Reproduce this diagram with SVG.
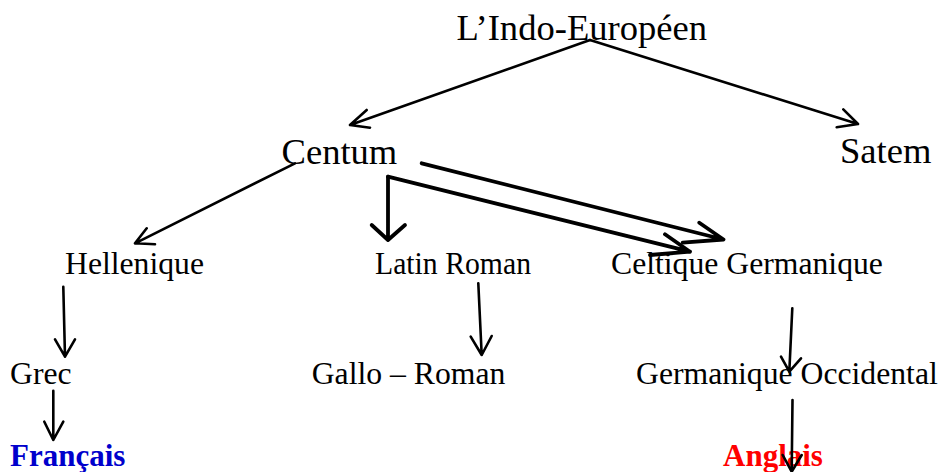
<svg xmlns="http://www.w3.org/2000/svg" width="940" height="472" viewBox="0 0 940 472">
  <style>
    text { font-family: "Liberation Serif", "Times New Roman", serif; fill: #000; }
    .big { font-size: 36.6px; }
    .mid { font-size: 31.7px; }
    .lang { font-size: 31px; font-weight: bold; }
    .fr { fill: #0000cc; }
    .en { fill: #ff0000; }
    .edge { fill: none; stroke: #000; stroke-width: 2.6; stroke-linecap: round; stroke-linejoin: round; }
    .thick { stroke-width: 3.8; }
  </style>
  <rect width="940" height="472" fill="#ffffff"/>

  <g id="indo-europeen"><text class="big" x="456.5" y="40">L’Indo-Européen</text></g>
  <g id="centum"><text class="big" x="281.5" y="164">Centum</text></g>
  <g id="satem"><text class="big" x="840" y="163">Satem</text></g>

  <g id="hellenique"><text class="mid" x="65" y="274">Hellenique</text></g>
  <g id="latin-roman"><text class="mid" x="375" y="273.5" textLength="156" lengthAdjust="spacingAndGlyphs">Latin Roman</text></g>
  <g id="celtique-germanique"><text class="mid" x="611" y="273.5">Celtique Germanique</text></g>

  <g id="grec"><text class="mid" x="10" y="383.5">Grec</text></g>
  <g id="gallo-roman"><text class="mid" x="311.7" y="383.5">Gallo – Roman</text></g>
  <g id="germanique-occidental"><text class="mid" x="636" y="383.5">Germanique Occidental</text></g>

  <g id="francais"><text class="lang fr" x="10" y="466">Français</text></g>
  <g id="anglais"><text class="lang en" x="723" y="466">Anglais</text></g>

  <g id="connectors">
    <!-- Indo-Européen to Centum / Satem -->
    <path class="edge" d="M590 40 L350 125 M366.7 110 L350 125 L370 127.7"/>
    <path class="edge" d="M590 40 L858 124 M843.3 109.3 L858 124 L836.7 127.3"/>
    <!-- Centum to Hellenique -->
    <path class="edge" d="M295 163.3 L135 243.3 M146.7 228.3 L135 243.3 L155 244.3"/>
    <!-- Centum to Latin Roman (thick) and to Celtique -->
    <path class="edge thick" d="M388 176.7 L388 240 M371.7 225 L388 240 L405 225"/>
    <path class="edge thick" d="M388 176.7 L690 251.7 M665 234.3 L690 251.7 L650 255"/>
    <path class="edge thick" d="M421.7 163.3 L723.5 239.5 M699.3 222.7 L723.5 239.5 L682.7 242.7"/>
    <!-- Hellenique to Grec to Français -->
    <path class="edge" d="M63.3 286.7 L65 356.7 M55 339.3 L65 356.7 L75 339.3"/>
    <path class="edge" d="M53.3 390.7 L53.3 440 M44.3 421.7 L53.3 440 L63.3 421.7"/>
    <!-- Latin Roman to Gallo-Roman -->
    <path class="edge" d="M478.3 283.3 L481.7 355 M470.7 336.7 L481.7 355 L491.7 336"/>
    <!-- Celtique Germanique to Germanique Occidental to Anglais -->
    <path class="edge" d="M792.3 308.3 L789.3 371.7 M781 356.7 L789.3 371.7 L801 358.3"/>
    <path class="edge" d="M792.5 400 L791.7 471.7 M782.7 455 L791.7 471.7 L801.7 455"/>
  </g>
</svg>
